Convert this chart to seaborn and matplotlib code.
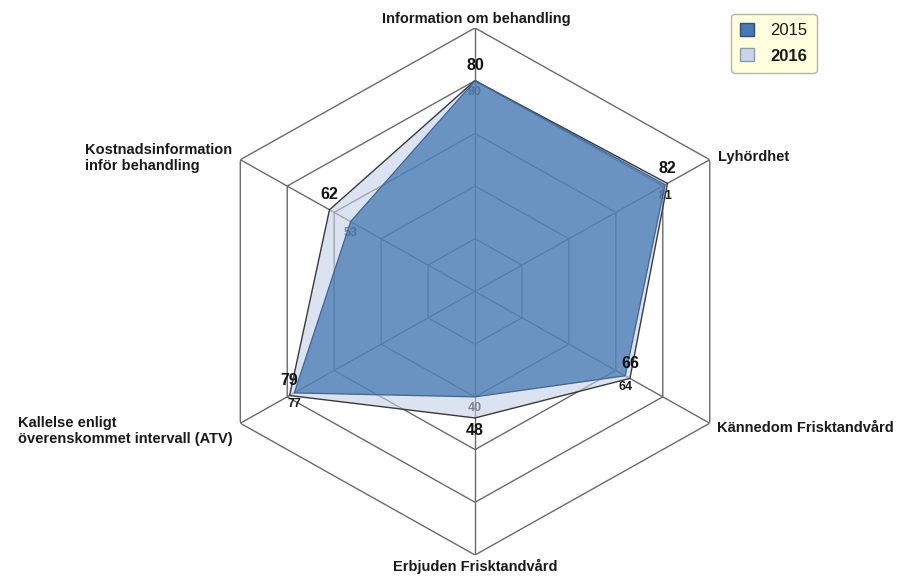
import numpy as np
import matplotlib
matplotlib.use("Agg")
import matplotlib.pyplot as plt
from matplotlib.patches import Patch
import seaborn as sns

# Survey results per question area (percent)
categories = [
    "Information om behandling",
    "Lyhördhet",
    "Kännedom Frisktandvård",
    "Erbjuden Frisktandvård",
    "Kallelse enligt\növerenskommet intervall (ATV)",
    "Kostnadsinformation\ninför behandling",
]
values_2015 = [80, 81, 64, 40, 77, 53]
values_2016 = [80, 82, 66, 48, 79, 62]
series_names = ["2015", "2016"]
ring_levels = [20, 40, 60, 80, 100]

sns.set_theme(style="white")
plt.rcParams["font.family"] = ["Liberation Sans", "DejaVu Sans"]

fig = plt.figure(figsize=(8.97, 5.76), dpi=100)
ax = fig.add_axes([0.2274, 0.0365, 0.6043, 0.915], projection="polar")
ax.set_aspect("auto")
ax.set_theta_zero_location("N")
ax.set_theta_direction(-1)
ax.set_ylim(0, 100)
ax.grid(False)
ax.spines["polar"].set_visible(False)
ax.set_xticks([])
ax.set_yticks([])
ax.patch.set_alpha(0)

n = len(categories)
theta = np.linspace(0, 2 * np.pi, n, endpoint=False)
closed = np.append(theta, theta[0])

# Hexagonal grid
grid_color = "#6a6a6a"
for lvl in ring_levels:
    ax.plot(closed, [lvl] * (n + 1), color=grid_color, lw=1.0, zorder=1)
for t in theta:
    ax.plot([t, t], [0, ring_levels[-1]], color=grid_color, lw=1.0, zorder=1)

pal = sns.color_palette(["#3068A8", "#C3D1E6"])
dark, light = pal[0], pal[1]

# 2016 (light, behind)
v16 = values_2016 + values_2016[:1]
ax.fill(closed, v16, facecolor=light, alpha=0.6, edgecolor="none", zorder=3)
ax.plot(closed, v16, color="#3a3a3a", lw=1.0, zorder=3.2)

# 2015 (dark, in front)
v15 = values_2015 + values_2015[:1]
ax.fill(closed, v15, facecolor=dark, alpha=0.65, edgecolor="none", zorder=4)
ax.plot(closed, v15, color="#3f6496", lw=0.9, zorder=4.2)

# Value labels
for t, v in zip(theta, values_2016):
    dy = -13 if np.isclose(np.cos(t), -1) else 15
    ax.annotate(str(v), (t, v), xytext=(0, dy), textcoords="offset pixels",
                ha="center", va="center", fontsize=11.5, fontweight="bold",
                color="#111111", zorder=6)
for t, v in zip(theta, values_2015):
    ax.annotate(str(v), (t, v), xytext=(0, -11), textcoords="offset pixels",
                ha="center", va="center", fontsize=9, fontweight="bold",
                color="#1a1a1a", zorder=2.5)

# Category labels around the outer ring
label_styles = [
    dict(xytext=(1, 9), ha="center"),
    dict(xytext=(8, 3), ha="left"),
    dict(xytext=(7, -5), ha="left"),
    dict(xytext=(0, -11), ha="center"),
    dict(xytext=(-8, -8), ha="right"),
    dict(xytext=(-8, 2), ha="right"),
]
for t, name, st in zip(theta, categories, label_styles):
    ax.annotate(name, (t, ring_levels[-1]), xytext=st["xytext"],
                textcoords="offset pixels", ha=st["ha"], va="center",
                multialignment="left", fontsize=10.5, fontweight="bold",
                color="#1a1a1a", annotation_clip=False, zorder=6)

handles = [
    Patch(facecolor="#4A78B4", edgecolor="#2f4f7a", label=series_names[0]),
    Patch(facecolor="#C9D6EA", edgecolor="#8a9ab0", label=series_names[1]),
]
leg = fig.legend(handles=handles, loc="upper left", bbox_to_anchor=(0.806, 0.99),
                 fontsize=12, handlelength=0.8, handleheight=0.8, handletextpad=1.0,
                 borderpad=0.55, labelspacing=0.6, fancybox=True, frameon=True)
leg.get_frame().set_facecolor("#FFFFDD")
leg.get_frame().set_edgecolor("#b5b5a5")
leg.get_frame().set_alpha(1)
leg.get_texts()[1].set_fontweight("bold")
for tx in leg.get_texts():
    tx.set_color("#1a1a1a")

fig.savefig("out.png", dpi=100, facecolor="white")
